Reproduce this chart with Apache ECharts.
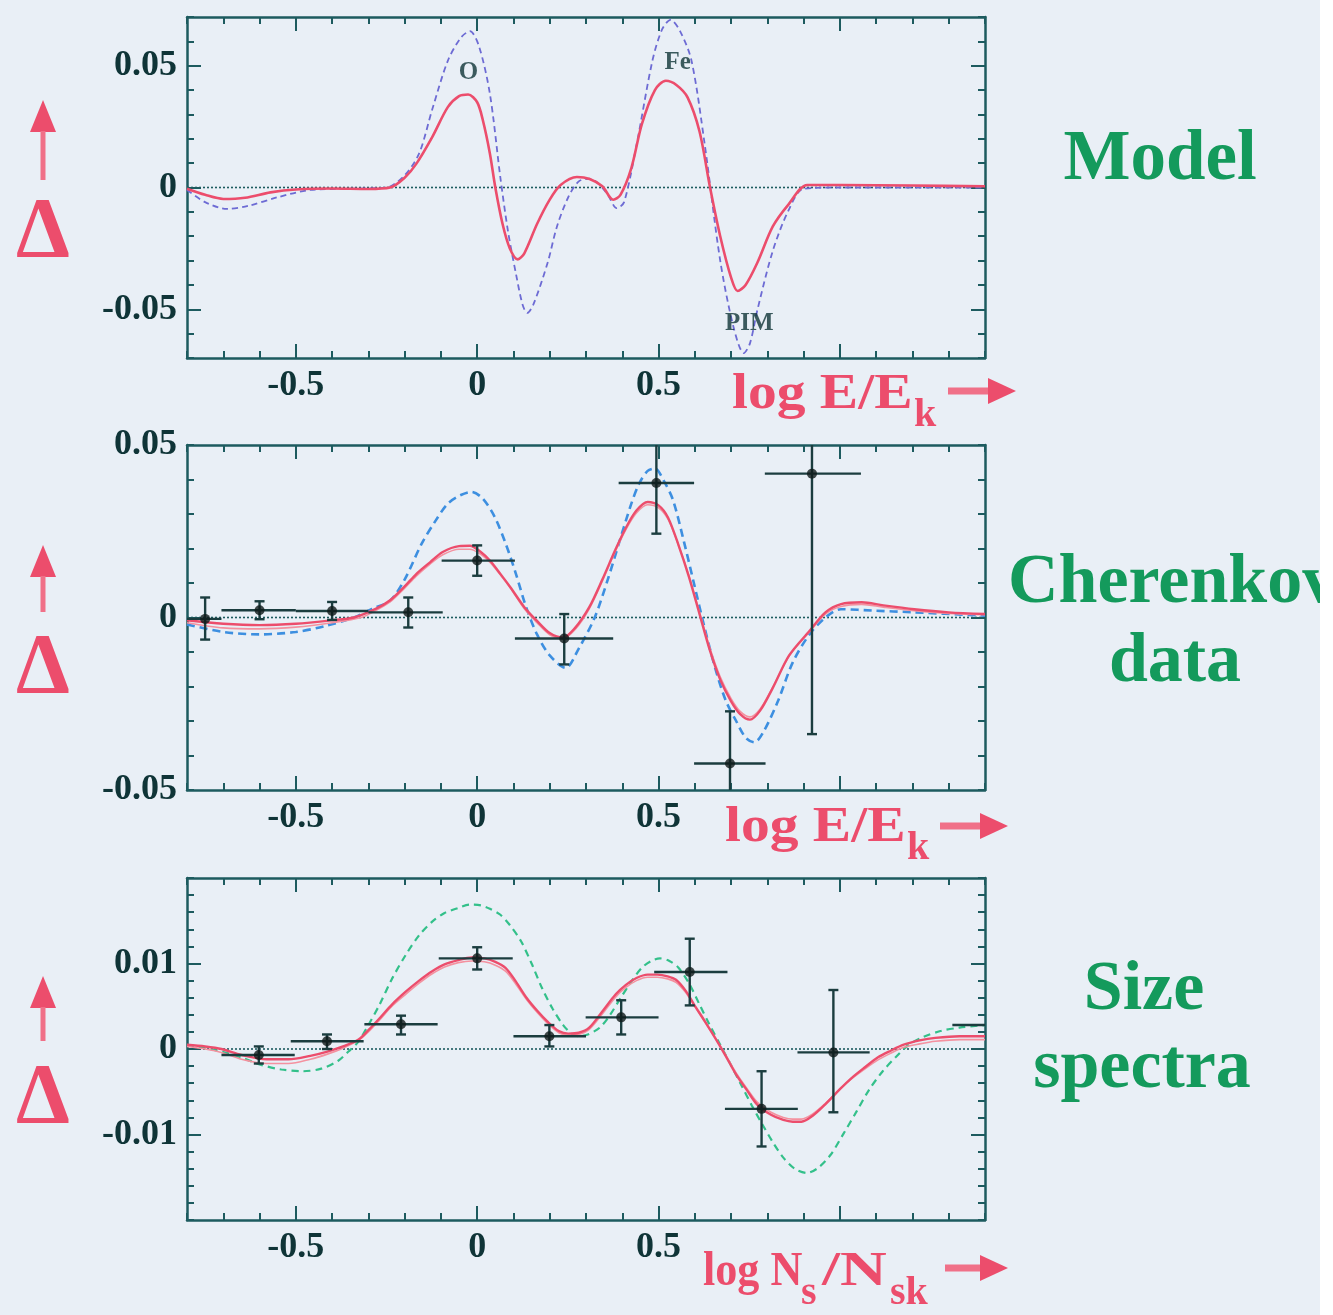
<!DOCTYPE html>
<html>
<head>
<meta charset="utf-8">
<title>Δ deviations: model, Cherenkov data, size spectra</title>
<script src="https://cdn.jsdelivr.net/npm/echarts@6/dist/echarts.min.js"></script>
<style>
  html, body { margin: 0; padding: 0; background: #e9eff6; }
  #chart { width: 1333px; height: 1315px; }
</style>
</head>
<body>
<div id="chart"></div>
<script>
// ---- axis ticks and labels ----
const xTickLabels = [-0.5, 0, 0.5];
const xMajorTicks = [-0.5, 0, 0.5, 1.0];
const modelYLabels = [-0.05, 0, 0.05];
const cherYLabels = [-0.05, 0, 0.05];
const sizeYLabels = [-0.01, 0, 0.01];
const sizeYMajor = [-0.01, 0, 0.01];

// ---- panel 1: model curves ----
const modelSolid = [[-0.8,-0.0005],[-0.75,-0.003],[-0.7,-0.0047],[-0.64,-0.0042],[-0.57,-0.002],[-0.5,-0.0008],[-0.4,-0.0004],[-0.3,-0.0006],[-0.24,0.0],[-0.2,0.004],[-0.168,0.0097],[-0.124,0.0207],[-0.081,0.033],[-0.05,0.0375],[-0.025,0.0382],[0.0,0.035],[0.015,0.028],[0.035,0.014],[0.05,0.0],[0.07,-0.015],[0.09,-0.025],[0.112,-0.0295],[0.13,-0.027],[0.165,-0.015],[0.2,-0.005],[0.23,0.001],[0.275,0.0043],[0.31,0.0035],[0.345,0.0005],[0.375,-0.005],[0.395,-0.003],[0.425,0.008],[0.454,0.026],[0.49,0.040],[0.52,0.0438],[0.55,0.042],[0.58,0.037],[0.613,0.023],[0.642,0.0],[0.67,-0.020],[0.70,-0.037],[0.718,-0.0425],[0.74,-0.040],[0.772,-0.031],[0.815,-0.016],[0.858,-0.007],[0.91,0.001],[1.0,0.001],[1.2,0.0008],[1.4,0.0005]];
const modelDashed = [[-0.8,-0.001],[-0.75,-0.006],[-0.69,-0.0088],[-0.63,-0.0075],[-0.55,-0.004],[-0.46,-0.001],[-0.35,-0.0005],[-0.25,0.0],[-0.2,0.005],[-0.16,0.014],[-0.124,0.032],[-0.081,0.052],[-0.045,0.0615],[-0.02,0.0642],[0.005,0.058],[0.035,0.0385],[0.064,0.004],[0.085,-0.018],[0.107,-0.0355],[0.125,-0.048],[0.138,-0.0515],[0.155,-0.048],[0.194,-0.031],[0.22,-0.016],[0.251,-0.004],[0.28,0.0025],[0.309,0.0036],[0.335,0.0015],[0.36,-0.003],[0.385,-0.0085],[0.405,-0.006],[0.44,0.018],[0.483,0.052],[0.51,0.065],[0.533,0.0688],[0.56,0.064],[0.591,0.052],[0.627,0.018],[0.67,-0.030],[0.707,-0.0575],[0.735,-0.068],[0.752,-0.064],[0.772,-0.0506],[0.815,-0.026],[0.858,-0.0095],[0.9,-0.0005],[1.0,0.0],[1.4,0.0]];
const modelTags = ['O', 'Fe', 'PIM'];
const modelTagX = [-0.024, 0.553, 0.75];
const modelTagY = [0.0474, 0.0515, -0.0558];

// ---- panel 2: Cherenkov data ----
const cherSolid = [[-0.8,-0.0008],[-0.7,-0.0018],[-0.6,-0.0022],[-0.5,-0.0018],[-0.4,-0.0008],[-0.34,0.0],[-0.28,0.0025],[-0.24,0.005],[-0.2,0.009],[-0.168,0.0126],[-0.13,0.016],[-0.095,0.019],[-0.05,0.0207],[-0.02,0.0208],[0.01,0.019],[0.035,0.0165],[0.065,0.0125],[0.092,0.0087],[0.13,0.003],[0.165,-0.001],[0.2,-0.0045],[0.237,-0.0058],[0.27,-0.003],[0.309,0.003],[0.345,0.011],[0.38,0.0194],[0.41,0.026],[0.439,0.031],[0.47,0.0335],[0.5,0.0325],[0.526,0.029],[0.555,0.021],[0.584,0.0117],[0.613,0.001],[0.642,-0.0097],[0.67,-0.018],[0.70,-0.0243],[0.725,-0.028],[0.752,-0.0296],[0.78,-0.027],[0.815,-0.0204],[0.86,-0.011],[0.916,-0.0039],[0.96,0.0015],[1.003,0.0039],[1.06,0.0044],[1.12,0.0035],[1.205,0.0024],[1.3,0.0015],[1.4,0.001]];
const cherThin = [[-0.8,-0.0015],[-0.7,-0.003],[-0.6,-0.0033],[-0.5,-0.0028],[-0.4,-0.0015],[-0.32,0.0],[-0.28,0.002],[-0.24,0.0045],[-0.2,0.0085],[-0.168,0.012],[-0.13,0.0155],[-0.095,0.0182],[-0.05,0.0198],[-0.02,0.0198],[0.01,0.0183],[0.035,0.016],[0.065,0.0122],[0.092,0.0085],[0.13,0.0025],[0.165,-0.0015],[0.2,-0.005],[0.235,-0.0062],[0.27,-0.0035],[0.309,0.0025],[0.345,0.0105],[0.38,0.019],[0.41,0.0255],[0.439,0.0303],[0.47,0.0327],[0.5,0.0318],[0.526,0.0285],[0.555,0.021],[0.584,0.012],[0.613,0.0015],[0.642,-0.009],[0.67,-0.0172],[0.70,-0.0235],[0.725,-0.0272],[0.752,-0.0288],[0.78,-0.0265],[0.815,-0.0202],[0.86,-0.0112],[0.916,-0.0042],[0.96,0.001],[1.003,0.0032],[1.06,0.0038],[1.12,0.003],[1.205,0.002],[1.3,0.0012],[1.4,0.0008]];
const cherDashed = [[-0.8,-0.002],[-0.7,-0.0042],[-0.6,-0.0049],[-0.5,-0.0042],[-0.42,-0.0025],[-0.34,0.0],[-0.29,0.0025],[-0.24,0.0049],[-0.2,0.011],[-0.153,0.0214],[-0.115,0.028],[-0.081,0.033],[-0.045,0.0355],[-0.016,0.0364],[0.015,0.0345],[0.049,0.029],[0.08,0.021],[0.107,0.0126],[0.135,0.003],[0.165,-0.0049],[0.2,-0.011],[0.244,-0.0146],[0.28,-0.009],[0.324,0.0],[0.36,0.011],[0.396,0.0233],[0.425,0.033],[0.447,0.0389],[0.47,0.0425],[0.49,0.0432],[0.515,0.0395],[0.54,0.034],[0.57,0.022],[0.598,0.0097],[0.627,-0.003],[0.656,-0.0146],[0.685,-0.024],[0.714,-0.030],[0.74,-0.0348],[0.764,-0.0362],[0.79,-0.033],[0.829,-0.0243],[0.87,-0.013],[0.916,-0.0049],[0.96,0.0],[1.003,0.0024],[1.09,0.002],[1.205,0.0015],[1.4,0.0005]];
const cherX   = [-0.75, -0.6, -0.4, -0.19, 0.0, 0.24, 0.494, 0.697, 0.923];
const cherY   = [-0.0004, 0.0021, 0.0019, 0.0015, 0.0165, -0.0061, 0.039, -0.0423, 0.0417];
const cherXLo = [-0.8, -0.705, -0.5, -0.3, -0.098, 0.104, 0.39, 0.598, 0.793];
const cherXHi = [-0.705, -0.5, -0.3, -0.095, 0.104, 0.375, 0.598, 0.795, 1.058];
const cherYLo = [-0.0064, -0.0005, -0.0007, -0.0029, 0.0121, -0.0136, 0.0243, -0.0574, -0.0338];
const cherYHi = [0.0058, 0.0047, 0.0045, 0.0058, 0.0209, 0.001, 0.0537, -0.0272, 0.117];

// ---- panel 3: size spectra ----
const sizeSolid = [[-0.8,0.0005],[-0.75,0.0003],[-0.705,0.0],[-0.65,-0.0007],[-0.58,-0.0012],[-0.52,-0.0012],[-0.46,-0.0008],[-0.413,-0.0003],[-0.37,0.0003],[-0.327,0.0011],[-0.3,0.0022],[-0.269,0.0036],[-0.235,0.0052],[-0.197,0.0067],[-0.16,0.008],[-0.124,0.0091],[-0.09,0.0099],[-0.052,0.0104],[-0.015,0.0107],[0.02,0.0106],[0.05,0.0102],[0.078,0.0095],[0.105,0.008],[0.136,0.006],[0.165,0.0045],[0.194,0.0032],[0.225,0.0021],[0.251,0.0018],[0.28,0.0019],[0.309,0.0025],[0.345,0.0044],[0.382,0.0064],[0.41,0.0075],[0.439,0.0083],[0.47,0.0087],[0.497,0.0087],[0.525,0.0085],[0.548,0.0081],[0.575,0.0068],[0.598,0.0052],[0.627,0.0033],[0.656,0.0013],[0.685,-0.0008],[0.714,-0.003],[0.745,-0.0049],[0.772,-0.0065],[0.81,-0.0077],[0.844,-0.0083],[0.87,-0.0085],[0.894,-0.0085],[0.925,-0.0078],[0.959,-0.0065],[1.0,-0.0047],[1.032,-0.0034],[1.07,-0.0021],[1.104,-0.001],[1.14,-0.0002],[1.176,0.0005],[1.22,0.001],[1.263,0.0013],[1.33,0.0015],[1.4,0.0015]];
const sizeThin = [[-0.8,0.0003],[-0.75,0.0],[-0.705,-0.0004],[-0.65,-0.0012],[-0.58,-0.0017],[-0.52,-0.0017],[-0.46,-0.0012],[-0.413,-0.0006],[-0.37,0.0001],[-0.327,0.001],[-0.3,0.002],[-0.269,0.0034],[-0.235,0.005],[-0.197,0.0064],[-0.16,0.0077],[-0.124,0.0088],[-0.09,0.0096],[-0.052,0.0101],[-0.015,0.0103],[0.02,0.0102],[0.05,0.0098],[0.078,0.0091],[0.105,0.0077],[0.136,0.0058],[0.165,0.0043],[0.194,0.003],[0.225,0.0019],[0.251,0.0016],[0.28,0.0017],[0.309,0.0023],[0.345,0.0041],[0.382,0.0061],[0.41,0.0072],[0.439,0.008],[0.47,0.0084],[0.497,0.0084],[0.525,0.0082],[0.548,0.0078],[0.575,0.0066],[0.598,0.0051],[0.627,0.0032],[0.656,0.0013],[0.685,-0.0007],[0.714,-0.0028],[0.745,-0.0047],[0.772,-0.0062],[0.81,-0.0074],[0.844,-0.008],[0.87,-0.0082],[0.894,-0.0082],[0.925,-0.0076],[0.959,-0.0064],[1.0,-0.0047],[1.032,-0.0035],[1.07,-0.0023],[1.104,-0.0013],[1.14,-0.0005],[1.176,0.0002],[1.22,0.0006],[1.263,0.0009],[1.33,0.0011],[1.4,0.0011]];
const sizeDashed = [[-0.8,0.0005],[-0.705,-0.0003],[-0.65,-0.001],[-0.6,-0.0018],[-0.54,-0.0024],[-0.48,-0.0026],[-0.43,-0.0023],[-0.384,-0.0014],[-0.355,-0.0003],[-0.327,0.0009],[-0.3,0.0028],[-0.269,0.0052],[-0.235,0.0082],[-0.197,0.011],[-0.16,0.0133],[-0.124,0.0149],[-0.09,0.0159],[-0.052,0.0165],[-0.02,0.0169],[0.01,0.0168],[0.035,0.0164],[0.064,0.0157],[0.09,0.0145],[0.121,0.0126],[0.15,0.01],[0.179,0.0071],[0.208,0.0047],[0.237,0.0028],[0.26,0.0018],[0.28,0.0015],[0.305,0.0017],[0.338,0.0025],[0.365,0.0039],[0.396,0.006],[0.425,0.0079],[0.454,0.0095],[0.48,0.0103],[0.504,0.0106],[0.53,0.0103],[0.555,0.0095],[0.585,0.0076],[0.613,0.0052],[0.64,0.0029],[0.67,0.0005],[0.7,-0.0019],[0.728,-0.0042],[0.757,-0.0066],[0.786,-0.0088],[0.815,-0.0109],[0.844,-0.0127],[0.875,-0.014],[0.909,-0.0145],[0.94,-0.0139],[0.974,-0.0124],[1.01,-0.0099],[1.046,-0.0073],[1.08,-0.0048],[1.118,-0.0026],[1.155,-0.0009],[1.19,0.0005],[1.23,0.0014],[1.277,0.0021],[1.33,0.0025],[1.4,0.0028]];
const sizeX   = [-0.602, -0.414, -0.21, 0.0, 0.199, 0.397, 0.586, 0.784, 0.982, 1.42];
const sizeY   = [-0.0007, 0.0009, 0.0029, 0.0106, 0.0015, 0.0037, 0.009, -0.007, -0.0004, 0.0028];
const sizeXLo = [-0.705, -0.514, -0.311, -0.106, 0.1, 0.299, 0.488, 0.683, 0.883, 1.31];
const sizeXHi = [-0.503, -0.313, -0.109, 0.098, 0.3, 0.5, 0.69, 0.884, 1.082, 1.52];
const sizeYLo = [-0.0017, 0.0, 0.0017, 0.0093, 0.0003, 0.0017, 0.0051, -0.0114, -0.0074, 0.0024];
const sizeYHi = [0.0003, 0.0017, 0.0039, 0.0119, 0.0028, 0.0057, 0.0129, -0.0026, 0.0069, 0.0032];

// ---- styling ----
const X_MIN = -0.8, X_MAX = 1.4;
const FRAME = '#1d5b5f';
const INK = '#0f3437';
const RED = '#ec4d6c';
const PINK = '#f4919f';
const GREEN = '#149a5c';
const SERIF = '"Liberation Serif", "DejaVu Serif", serif';

const panels = [
  { top: 17,  height: 341, yMin: -0.07, yMax: 0.07, yStep: 0.01,  yMajor: [-0.05, 0, 0.05], yLabels: modelYLabels },
  { top: 445, height: 345, yMin: -0.05, yMax: 0.05, yStep: 0.01,  yMajor: [0], yLabels: cherYLabels },
  { top: 878, height: 342, yMin: -0.02, yMax: 0.02, yStep: 0.002, yMajor: sizeYMajor, yLabels: sizeYLabels }
];

const fmt = v => (Math.abs(v) < 1e-12 ? '0' : String(+v.toFixed(3)));
const tickLabelStyle = { fontFamily: SERIF, fontWeight: 'bold', fontSize: 36, color: INK };

const grid = [], xAxis = [], yAxis = [];
panels.forEach((p, gi) => {
  grid.push({ left: 187, width: 798, top: p.top, height: p.height, show: false });
  ['bottom', 'top'].forEach(pos => {
    xAxis.push({
      gridIndex: gi, type: 'value', min: X_MIN, max: X_MAX, interval: 0.1, position: pos,
      axisLine: { show: true, onZero: false, lineStyle: { color: FRAME, width: 2.5 } },
      axisTick: { show: true, inside: true, length: 7, lineStyle: { color: FRAME, width: 2 } },
      axisLabel: pos === 'bottom'
        ? Object.assign({ show: true, customValues: xTickLabels, formatter: fmt, margin: 10 }, tickLabelStyle)
        : { show: false },
      splitLine: { show: false }
    });
    xAxis.push({
      gridIndex: gi, type: 'value', min: X_MIN, max: X_MAX, position: pos,
      axisLine: { show: false, onZero: false },
      axisTick: { show: true, inside: true, length: 14, customValues: xMajorTicks, lineStyle: { color: FRAME, width: 2 } },
      axisLabel: { show: false }, splitLine: { show: false }
    });
  });
  ['left', 'right'].forEach(pos => {
    yAxis.push({
      gridIndex: gi, type: 'value', min: p.yMin, max: p.yMax, interval: p.yStep, position: pos,
      axisLine: { show: true, onZero: false, lineStyle: { color: FRAME, width: 2.5 } },
      axisTick: { show: true, inside: true, length: 7, lineStyle: { color: FRAME, width: 2 } },
      axisLabel: pos === 'left'
        ? Object.assign({ show: true, customValues: p.yLabels, formatter: fmt, margin: 10 }, tickLabelStyle)
        : { show: false },
      splitLine: { show: false }
    });
    yAxis.push({
      gridIndex: gi, type: 'value', min: p.yMin, max: p.yMax, position: pos,
      axisLine: { show: false, onZero: false },
      axisTick: { show: true, inside: true, length: 14, customValues: p.yMajor, lineStyle: { color: FRAME, width: 2 } },
      axisLabel: { show: false }, splitLine: { show: false }
    });
  });
});

const ax = gi => ({ xAxisIndex: gi * 4, yAxisIndex: gi * 4 });

function zeroLine(gi) {
  return Object.assign({
    type: 'line', data: [[X_MIN, 0], [X_MAX, 0]], symbol: 'none', silent: true, z: 1,
    lineStyle: { color: FRAME, width: 1.6, type: [2, 2] }
  }, ax(gi));
}
function curve(gi, data, color, width, dash, z) {
  return Object.assign({
    type: 'line', data: data, symbol: 'none', smooth: 0.3, silent: true, z: z || 3,
    lineStyle: { color: color, width: width, type: dash || 'solid' }
  }, ax(gi));
}
function errorBars(gi, xs, ys, xlo, xhi, ylo, yhi) {
  const rows = xs.map((x, i) => [x, ys[i], xlo[i], xhi[i], ylo[i], yhi[i]]);
  return [
    Object.assign({
      type: 'custom', data: rows, clip: true, z: 5, silent: true,
      renderItem: (params, api) => {
        const x = api.value(0), y = api.value(1);
        const l = api.coord([api.value(2), y]), r = api.coord([api.value(3), y]);
        const b = api.coord([x, api.value(4)]), t = api.coord([x, api.value(5)]);
        const st = { stroke: '#1b3d3f', lineWidth: 2.4 };
        const cap = 5;
        return { type: 'group', children: [
          { type: 'line', shape: { x1: l[0], y1: l[1], x2: r[0], y2: r[1] }, style: st },
          { type: 'line', shape: { x1: b[0], y1: b[1], x2: t[0], y2: t[1] }, style: st },
          { type: 'line', shape: { x1: b[0] - cap, y1: b[1], x2: b[0] + cap, y2: b[1] }, style: st },
          { type: 'line', shape: { x1: t[0] - cap, y1: t[1], x2: t[0] + cap, y2: t[1] }, style: st }
        ] };
      }
    }, ax(gi)),
    Object.assign({
      type: 'scatter', data: rows.map(r => [r[0], r[1]]), symbolSize: 10, z: 6, silent: true,
      itemStyle: { color: '#0f1a1a' }, clip: true
    }, ax(gi))
  ];
}

const series = [
  zeroLine(0),
  curve(0, modelDashed, '#6d6bd4', 1.8, [6, 4], 2),
  curve(0, modelSolid, RED, 2.6, 'solid', 3),
  Object.assign({
    type: 'scatter', symbolSize: 0, silent: true, z: 7,
    data: modelTags.map((n, i) => ({ name: n, value: [modelTagX[i], modelTagY[i]] })),
    label: { show: true, position: 'inside', formatter: '{b}', fontFamily: SERIF, fontWeight: 'bold', fontSize: 25, color: INK }
  }, ax(0)),

  zeroLine(1),
  curve(1, cherDashed, '#3d8fe0', 2.6, [8, 5], 2),
  curve(1, cherThin, PINK, 1.6, 'solid', 3),
  curve(1, cherSolid, RED, 2.4, 'solid', 4),
  ...errorBars(1, cherX, cherY, cherXLo, cherXHi, cherYLo, cherYHi),

  zeroLine(2),
  curve(2, sizeDashed, '#33c08a', 2.2, [7, 5], 2),
  curve(2, sizeThin, PINK, 1.6, 'solid', 3),
  curve(2, sizeSolid, RED, 2.4, 'solid', 4),
  ...errorBars(2, sizeX, sizeY, sizeXLo, sizeXHi, sizeYLo, sizeYHi)
];

// ---- decorations: Δ with up-arrow, axis titles, panel names ----
const graphic = [];
function upArrow(xc, tipY, headH, bottomY) {
  graphic.push({ type: 'polygon', shape: { points: [[xc, tipY], [xc - 13, tipY + headH], [xc + 13, tipY + headH]] }, style: { fill: RED }, silent: true });
  graphic.push({ type: 'rect', shape: { x: xc - 2.5, y: tipY + headH - 1, width: 5, height: bottomY - tipY - headH + 1 }, style: { fill: '#f07088' }, silent: true });
}
function rightArrow(x0, x1, yc) {
  graphic.push({ type: 'rect', shape: { x: x0, y: yc - 3.5, width: x1 - x0 - 26, height: 7 }, style: { fill: '#f07088' }, silent: true });
  graphic.push({ type: 'polygon', shape: { points: [[x1, yc], [x1 - 28, yc - 13], [x1 - 28, yc + 13]] }, style: { fill: RED }, silent: true });
}
function txt(s, x, y, size, color, align, weight, sx) {
  graphic.push({ type: 'text', silent: true, x: x, y: y, scaleX: sx || 1, style: {
    text: s, x: 0, y: 0, fill: color, font: (weight || 'bold') + ' ' + size + 'px ' + SERIF,
    align: align || 'left', verticalAlign: 'middle'
  } });
}

[[100, 180, 235], [545, 612, 671], [976, 1041, 1101]].forEach(([tip, bot, dy]) => {
  upArrow(43, tip, 32, bot);
  txt('Δ', 43, dy, 86, RED, 'center', 'bold');
});

// x-axis titles
txt('log E/E', 732, 395, 50, RED, 'left', 'bold', 1.15);
txt('k', 914, 416, 40, RED, 'left');
rightArrow(948, 1016, 391);

txt('log E/E', 725, 828, 50, RED, 'left', 'bold', 1.15);
txt('k', 907, 849, 40, RED, 'left');
rightArrow(940, 1008, 826);

txt('log N', 703, 1273, 48, RED, 'left', 'bold', 0.92);
txt('s', 801, 1294, 40, RED, 'left');
txt('/N', 822, 1273, 48, RED, 'left', 'bold', 1.35);
txt('sk', 890, 1294, 40, RED, 'left');
rightArrow(945, 1008, 1268);

// panel names
txt('Model', 1160, 161, 71, GREEN, 'center');
txt('Cherenkov', 1008, 584, 70, GREEN, 'left');
txt('data', 1175, 663, 70, GREEN, 'center');
txt('Size', 1144, 991, 70, GREEN, 'center');
txt('spectra', 1142, 1069, 70, GREEN, 'center');

// white margin at the right edge
graphic.push({ type: 'rect', shape: { x: 1320, y: 0, width: 13, height: 1315 }, style: { fill: '#ffffff' }, z: 100, silent: true });

const chart = echarts.init(document.getElementById('chart'), null, { renderer: 'canvas' });
chart.setOption({
  backgroundColor: '#e9eff6',
  animation: false,
  grid: grid,
  xAxis: xAxis,
  yAxis: yAxis,
  series: series,
  graphic: graphic
});
</script>
</body>
</html>
